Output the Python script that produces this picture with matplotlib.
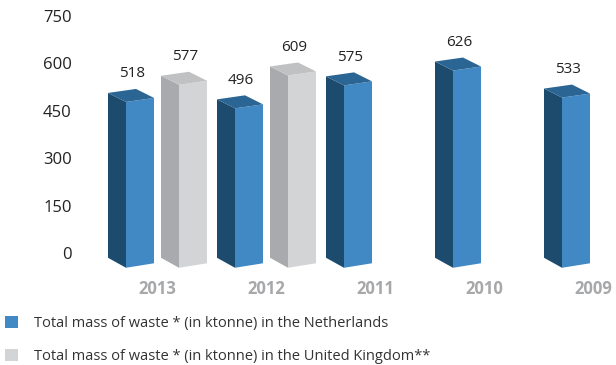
import matplotlib
matplotlib.use('Agg')
import matplotlib.pyplot as plt
from matplotlib.patches import Polygon, Patch

plt.rcParams['font.family'] = ['Open Sans', 'DejaVu Sans']

years = ['2013', '2012', '2011', '2010', '2009']
netherlands = [518, 496, 575, 626, 533]
uk = [577, 609, None, None, None]
yticks = [0, 150, 300, 450, 600, 750]

# colours: front, side, top
blue = ('#4189c5', '#1d4b6d', '#2a6593')
grey = ('#d3d4d6', '#a9aaad', '#c0c1c3')

fig = plt.figure(figsize=(6.16, 3.65), dpi=100)
ax = fig.add_axes([80 / 616, 1 - 272 / 365, 1 - 80 / 616, 272 / 365])
ax.set_xlim(-28 / 109, 508 / 109)
ax.set_ylim(-60, 800.6)

k = 272 / 860.6        # px per value unit
px_x = 1 / 109         # x units per px
px_y = 1 / k           # y units per px


def bar3d(x0, v, cols):
    front, side, top = cols
    sw, fw = 18 * px_x, 28 * px_x
    # outer back-left edge (the original bars are drawn slightly squashed)
    bl_top, bl_bot = 0.92 * v + 30, -15
    fl_top, fl_bot = bl_top - 9 * px_y, bl_bot - 10 * px_y
    fr_top, fr_bot = fl_top + 4 * px_y, fl_bot + 4.5 * px_y
    xl, xf, xr = x0, x0 + sw, x0 + sw + fw
    ax.add_patch(Polygon([(xl, bl_bot), (xl, bl_top), (xf, fl_top), (xf, fl_bot)],
                         closed=True, fc=side, ec='none'))
    ax.add_patch(Polygon([(xf, fl_bot), (xf, fl_top), (xr, fr_top), (xr, fr_bot)],
                         closed=True, fc=front, ec='none'))
    ax.add_patch(Polygon([(xl, bl_top), (xf, fl_top), (xr, fr_top),
                          (xl + fw, bl_top + 4 * px_y)],
                         closed=True, fc=top, ec='none'))
    ax.text(x0 + 24 * px_x, bl_top + 19 * px_y, str(v), ha='center', va='center',
            fontsize=11, color='#222222')


for i, (nl, gb) in enumerate(zip(netherlands, uk)):
    bar3d(i, nl, blue)
    if gb is not None:
        bar3d(i + 53 * px_x, gb, grey)

ax.set_yticks(yticks)
ax.set_yticklabels([str(t) for t in yticks], fontsize=12, color='#222222')
ax.set_xticks([i + 49.5 * px_x for i in range(len(years))])
ax.set_xticklabels(years, fontsize=12, fontweight='bold', color='#a7a8aa')
ax.tick_params(axis='both', length=0)
ax.tick_params(axis='y', pad=6)
ax.tick_params(axis='x', pad=6)
for s in ax.spines.values():
    s.set_visible(False)

handles = [Patch(fc=blue[0], ec='none'), Patch(fc=grey[0], ec='none')]
labels = ['Total mass of waste * (in ktonne) in the Netherlands',
          'Total mass of waste * (in ktonne) in the United Kingdom**']
fig.legend(handles, labels, loc='upper left', bbox_to_anchor=(2 / 616, 1 - 313 / 365),
           frameon=False, fontsize=10.5, handlelength=0.9, handleheight=0.9,
           handletextpad=1.1, labelspacing=1.2, borderaxespad=0, borderpad=0.2,
           labelcolor='#333333')

fig.savefig('out.png', dpi=100)
